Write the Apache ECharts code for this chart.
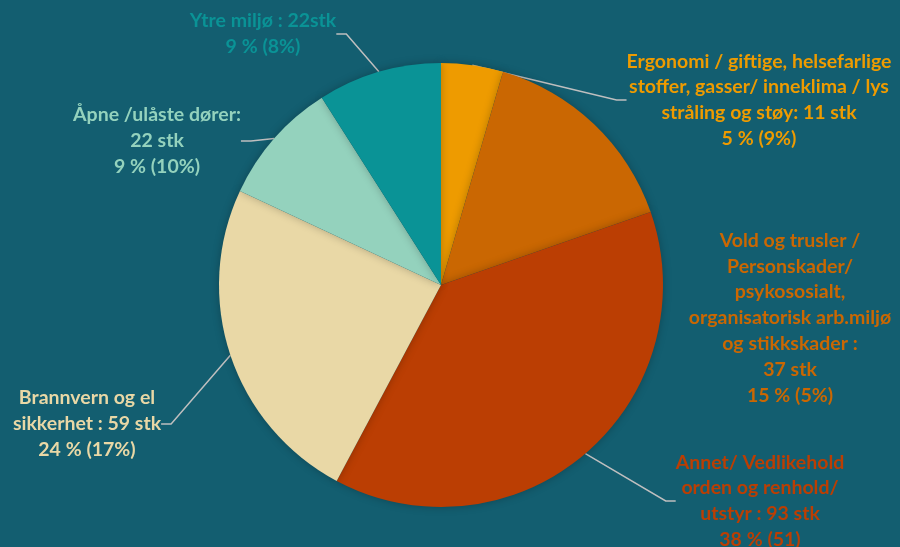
<!DOCTYPE html>
<html>
<head>
<meta charset="utf-8">
<script src="https://cdn.jsdelivr.net/npm/echarts@6/dist/echarts.min.js"></script>
<style>
  html, body { margin: 0; padding: 0; background: #135E70; }
  #chart { width: 900px; height: 547px; }
</style>
</head>
<body>
<div id="chart"></div>
<script>
// kategorier (med linjeskift slik de står i figuren), antall og tidligere andel
var categories = [
  "Ergonomi / giftige, helsefarlige\nstoffer, gasser/ inneklima / lys\nstråling og støy: {v} stk",
  "Vold og trusler /\nPersonskader/\npsykososialt,\norganisatorisk arb.miljø\nog stikkskader :\n{v} stk",
  "Annet/ Vedlikehold\norden og renhold/\nutstyr : {v} stk",
  "Brannvern og el\nsikkerhet : {v} stk",
  "Åpne /ulåste dører:\n{v} stk",
  "Ytre miljø : {v}stk"
];
var values = [11, 37, 93, 59, 22, 22];
var previous = ["(9%)", "(5%)", "(51)", "(17%)", "(10%)", "(8%)"];

var colors = ["#EE9B00", "#CA6702", "#BB3E03", "#E9D8A6", "#94D2BD", "#0A9396"];
// plassering av tekstene (midtpunkt)
var labelPos = [[759, 100], [790, 318], [760, 501], [87, 424], [157, 141], [263, 34]];

var chart = echarts.init(document.getElementById("chart"));
var data = [];
for (var i = 0; i < values.length; i++) {
  data.push({
    name: categories[i],
    value: values[i],
    itemStyle: { color: colors[i] },
    label: { color: colors[i] },
    labelLine: { show: i !== 1 }
  });
}

chart.setOption({
  backgroundColor: "#135E70",
  animation: false,
  series: [
    {
      type: "pie",
      center: [441, 285],
      radius: 222,
      startAngle: 90,
      clockwise: true,
      data: data,
      itemStyle: {
        shadowBlur: 8,
        shadowColor: "rgba(0,0,0,0.25)"
      },
      label: {
        show: true,
        position: "outside",
        fontFamily: "Lato",
        fontWeight: "bold",
        fontSize: 19.5,
        lineHeight: 25.8,
        align: "center",
        formatter: function (p) {
          return p.name.replace("{v}", p.value) + "\n" +
            Math.round(p.percent) + " % " + previous[p.dataIndex];
        }
      },
      labelLine: {
        show: true,
        length: 20,
        length2: 10,
        lineStyle: { color: "#BFBFBF", width: 1.5 }
      },
      labelLayout: function (params) {
        var pos = labelPos[params.dataIndex];
        return {
          x: pos[0],
          y: pos[1],
          align: "center",
          verticalAlign: "middle"
        };
      }
    }
  ]
});
</script>
</body>
</html>
